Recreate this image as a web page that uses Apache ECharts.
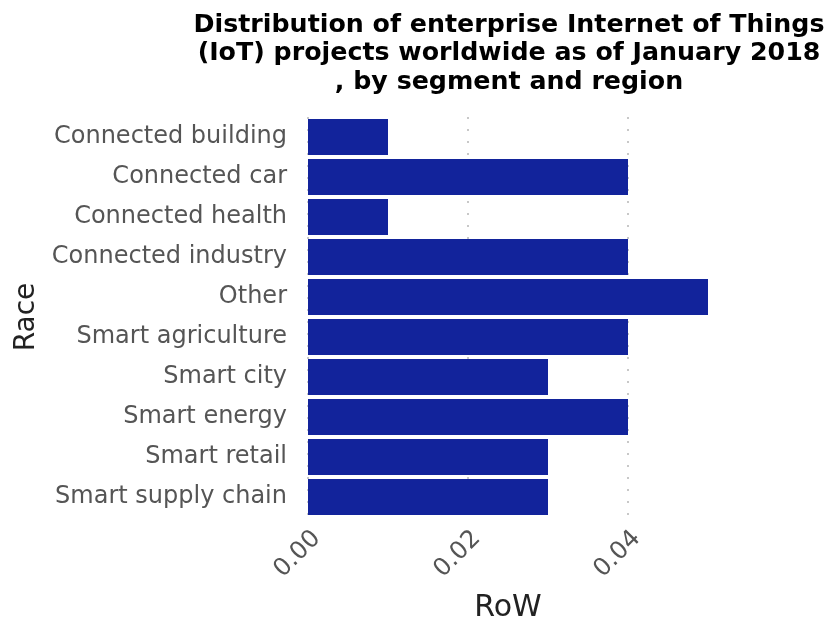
<!DOCTYPE html>
<html>
<head>
<meta charset="utf-8">
<script src="https://cdn.jsdelivr.net/npm/echarts@6/dist/echarts.min.js"></script>
<style>html,body{margin:0;padding:0;background:#fff}#c{width:840px;height:632px}</style>
</head>
<body>
<div id="c"></div>
<script>
const categories = ["Connected building","Connected car","Connected health","Connected industry","Other","Smart agriculture","Smart city","Smart energy","Smart retail","Smart supply chain"];
const values = [0.01,0.04,0.01,0.04,0.05,0.04,0.03,0.04,0.03,0.03];
const titleText = "Distribution of enterprise Internet of Things\n(IoT) projects worldwide as of January 2018\n, by segment and region";
const xName = "RoW";
const yName = "Race";

const chart = echarts.init(document.getElementById('c'));
chart.setOption({
  animation: false,
  title: {
    text: titleText,
    left: 504, top: 6, textAlign: 'center',
    textStyle: {fontFamily: 'DejaVu Sans', fontWeight: 'bold', fontSize: 25.3, color: '#000', lineHeight: 28.5}
  },
  grid: {left: 308, right: 132, top: 117, bottom: 115, containLabel: false},
  xAxis: {
    type: 'value', min: 0, max: 0.05, interval: 0.02,
    name: xName, nameLocation: 'middle', nameGap: 76,
    nameTextStyle: {fontFamily: 'DejaVu Sans', fontSize: 30, color: '#222'},
    axisLine: {show: false}, axisTick: {show: false},
    axisLabel: {rotate: 45, fontFamily: 'DejaVu Sans', fontSize: 24.5, color: '#555', margin: 9,
      verticalAlign: 'top', showMaxLabel: false,
      formatter: v => v.toFixed(2)},
    splitLine: {show: true, showMaxLine: false, lineStyle: {type: [2, 10], color: '#c8c8c8', width: 2}}
  },
  yAxis: {
    type: 'category', data: categories, inverse: true,
    name: yName, nameLocation: 'middle', nameGap: 267, nameRotate: 90,
    nameTextStyle: {fontFamily: 'DejaVu Sans', fontSize: 28, color: '#222'},
    axisLine: {show: false}, axisTick: {show: false},
    axisLabel: {fontFamily: 'DejaVu Sans', fontSize: 24, color: '#555', margin: 21}
  },
  series: [{
    type: 'bar', data: values, barCategoryGap: '10%',
    itemStyle: {color: '#12239b'}
  }]
});
</script>
</body>
</html>
